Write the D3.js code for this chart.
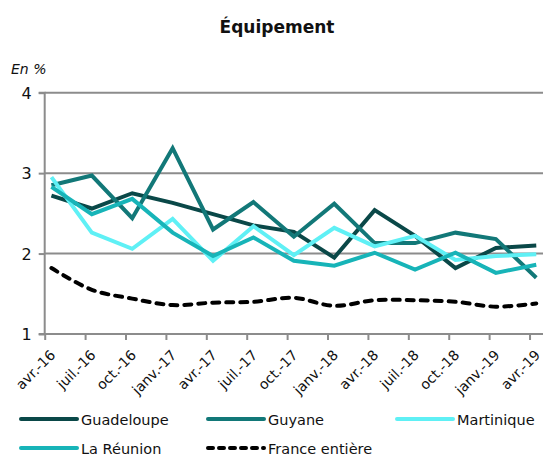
<!DOCTYPE html>
<html>
<head>
<meta charset="utf-8">
<script src="https://cdn.jsdelivr.net/npm/d3@7"></script>
<style>
  html, body { margin: 0; padding: 0; background: #fff; }
  svg { display: block; font-family: "DejaVu Sans", Verdana, sans-serif; }
</style>
</head>
<body>
<svg id="chart" width="544" height="460"></svg>
<script>
// ---- Data ----
const categories = ["avr.-16","juil.-16","oct.-16","janv.-17","avr.-17","juil.-17","oct.-17","janv.-18","avr.-18","juil.-18","oct.-18","janv.-19","avr.-19"];
const guadeloupe = [2.72, 2.56, 2.75, 2.63, 2.49, 2.35, 2.27, 1.95, 2.54, 2.22, 1.82, 2.07, 2.10];
const guyane     = [2.85, 2.97, 2.44, 3.31, 2.30, 2.64, 2.21, 2.62, 2.13, 2.13, 2.26, 2.18, 1.70];
const martinique = [2.95, 2.26, 2.06, 2.43, 1.91, 2.34, 1.98, 2.32, 2.09, 2.22, 1.92, 1.97, 1.99];
const reunion    = [2.83, 2.49, 2.68, 2.26, 1.97, 2.20, 1.91, 1.85, 2.01, 1.80, 2.01, 1.76, 1.86];
const france     = [1.82, 1.55, 1.44, 1.36, 1.39, 1.40, 1.45, 1.35, 1.42, 1.42, 1.40, 1.34, 1.38];
const yTicks = [1, 2, 3, 4];
const seriesNames = ["Guadeloupe", "Guyane", "Martinique", "La Réunion", "France entière"];
const seriesColors = ["#0a4848", "#127878", "#5ff0f5", "#17b4b8", "#000000"];

const series = [
  {name: seriesNames[0], values: guadeloupe, color: seriesColors[0], dashed: false},
  {name: seriesNames[1], values: guyane,     color: seriesColors[1], dashed: false},
  {name: seriesNames[2], values: martinique, color: seriesColors[2], dashed: false},
  {name: seriesNames[3], values: reunion,    color: seriesColors[3], dashed: false},
  {name: seriesNames[4], values: france,     color: seriesColors[4], dashed: true}
];

const svg = d3.select("#chart");
const pLeft = 44.7, pRight = 543, pTop = 92.7, pBottom = 334;
const monthsPerCat = 3;
const totalMonths = categories.length * monthsPerCat - 2; // 37 months on the date axis

const x = d3.scaleLinear().domain([0, totalMonths]).range([pLeft, pRight]);
const y = d3.scaleLinear().domain([1, 4]).range([pBottom, pTop]);
const px = i => x(i * monthsPerCat + 0.5);

// Title
svg.append("text").attr("x", 277).attr("y", 33).attr("text-anchor", "middle")
  .attr("font-size", 17).attr("font-weight", "bold").attr("fill", "#111").text("Équipement");
svg.append("text").attr("x", 11).attr("y", 74).attr("font-size", 14).attr("font-style", "italic")
  .attr("fill", "#111").text("En %");

// Gridlines
svg.append("g").selectAll("line").data(yTicks.filter(d => d > 1)).join("line")
  .attr("x1", pLeft).attr("x2", pRight)
  .attr("y1", d => y(d)).attr("y2", d => y(d))
  .attr("stroke", "#8c8c8c").attr("stroke-width", 2);

// Y axis
const yAxis = d3.axisLeft(y).tickValues(yTicks).tickFormat(d3.format("d")).tickSize(6).tickPadding(7);
const gy = svg.append("g").attr("transform", `translate(${pLeft},0)`).call(yAxis);
gy.select(".domain").attr("stroke", "#8c8c8c").attr("stroke-width", 2).attr("d", `M-6,${pTop}H0V${pBottom}H-6`);
gy.selectAll(".tick line").attr("stroke", "#8c8c8c").attr("stroke-width", 2);
gy.selectAll(".tick text").attr("font-size", 16).attr("fill", "#111")
  .attr("font-family", "'DejaVu Sans', sans-serif").attr("dy", "0.36em");

// X axis
const xAxis = d3.axisBottom(x)
  .tickValues(categories.map((c, i) => i * monthsPerCat))
  .tickFormat((d, i) => categories[i]).tickSize(6);
const gx = svg.append("g").attr("transform", `translate(0,${pBottom})`).call(xAxis);
gx.select(".domain").attr("stroke", "#8c8c8c").attr("stroke-width", 2).attr("d", `M${pLeft},0H${pRight}`);
gx.selectAll(".tick line").attr("stroke", "#8c8c8c").attr("stroke-width", 2);
gx.selectAll(".tick text").attr("font-size", 14).attr("fill", "#111")
  .attr("font-family", "'DejaVu Sans', sans-serif")
  .attr("text-anchor", "end").attr("dy", 0).attr("y", 0)
  .attr("transform", "translate(11,22) rotate(-45)");

// Lines
const line = d3.line().x((d, i) => px(i)).y(d => y(d));
const smooth = d3.line().x((d, i) => px(i)).y(d => y(d)).curve(d3.curveCatmullRom.alpha(0.5));
svg.append("g").selectAll("path").data(series).join("path")
  .attr("d", s => s.dashed ? smooth(s.values) : line(s.values))
  .attr("fill", "none")
  .attr("stroke", s => s.color)
  .attr("stroke-width", 4)
  .attr("stroke-linejoin", "miter")
  .attr("stroke-linecap", s => s.dashed ? "round" : "butt")
  .attr("stroke-dasharray", s => s.dashed ? "7,7" : null);

// Legend
const legendPos = [
  {x: 21, y: 419}, {x: 208, y: 419}, {x: 397, y: 419},
  {x: 21, y: 448}, {x: 208, y: 448}
];
const lg = svg.append("g").selectAll("g").data(series).join("g")
  .attr("transform", (s, i) => `translate(${legendPos[i].x},${legendPos[i].y})`);
lg.append("line").attr("x1", 0).attr("x2", 56).attr("y1", 0).attr("y2", 0)
  .attr("stroke", s => s.color).attr("stroke-width", 4)
  .attr("stroke-linecap", "round")
  .attr("stroke-dasharray", s => s.dashed ? "5,6" : null);
lg.append("text").attr("x", 60).attr("y", 5.5).attr("font-size", 14.5).attr("fill", "#111")
  .text(s => s.name);
</script>
</body>
</html>
